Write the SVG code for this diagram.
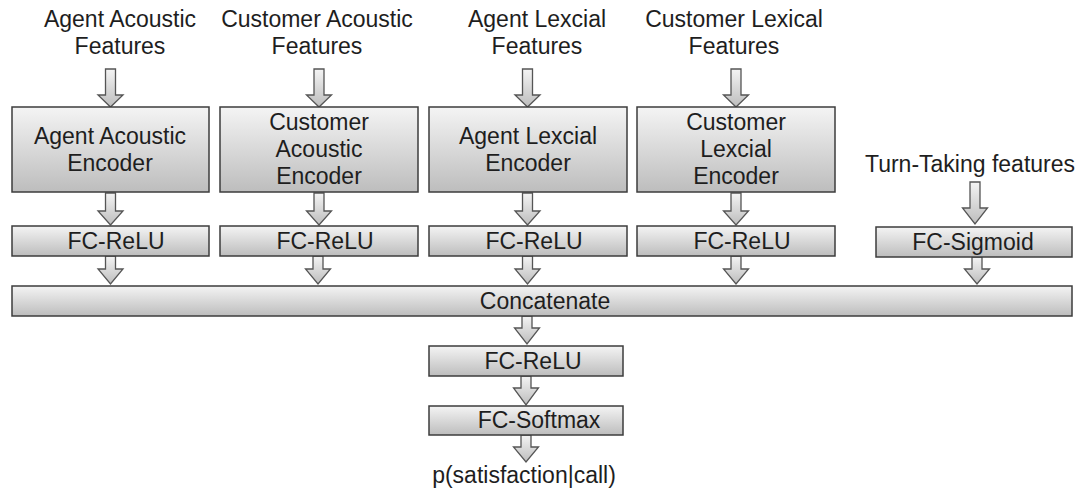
<svg xmlns="http://www.w3.org/2000/svg" width="1082" height="489" viewBox="0 0 1082 489">
  <defs>
    <linearGradient id="g" x1="0" y1="0" x2="0" y2="1">
      <stop offset="0" stop-color="#f4f4f4"/>
      <stop offset="1" stop-color="#bdbdbd"/>
    </linearGradient>
    <style>
      .box{fill:url(#g);stroke:#3c3c3c;stroke-width:1.5}
      .arr{fill:url(#g);stroke:#555;stroke-width:1.3;stroke-linejoin:miter}
      text{font-family:"Liberation Sans",Arial,sans-serif;font-size:23px;fill:#1e1e1e;text-anchor:middle}
    </style>
  </defs>
  <rect width="1082" height="489" fill="#fff"/>

  <g id="connectors">
    <polygon class="arr" points="105.5,69 115.5,69 115.5,95 123,95 110.5,107 98,95 105.5,95"/>
    <polygon class="arr" points="314,69 324,69 324,95 331.5,95 319,107 306.5,95 314,95"/>
    <polygon class="arr" points="522.5,69 532.5,69 532.5,95 540,95 527.5,107 515,95 522.5,95"/>
    <polygon class="arr" points="731,69 741,69 741,95 748.5,95 736,107 723.5,95 731,95"/>
    <polygon class="arr" points="105.5,193 115.5,193 115.5,211 123,211 110.5,225 98,211 105.5,211"/>
    <polygon class="arr" points="314,193 324,193 324,211 331.5,211 319,225 306.5,211 314,211"/>
    <polygon class="arr" points="522.5,193 532.5,193 532.5,211 540,211 527.5,225 515,211 522.5,211"/>
    <polygon class="arr" points="731,193 741,193 741,211 748.5,211 736,225 723.5,211 731,211"/>
    <polygon class="arr" points="105.5,256 115.5,256 115.5,269 123,269 110.5,284 98,269 105.5,269"/>
    <polygon class="arr" points="313,256 323,256 323,269 330.5,269 318,284 305.5,269 313,269"/>
    <polygon class="arr" points="522.5,256 532.5,256 532.5,269 540,269 527.5,284 515,269 522.5,269"/>
    <polygon class="arr" points="731,256 741,256 741,269 748.5,269 736,284 723.5,269 731,269"/>
    <polygon class="arr" points="970,182 980,182 980,208 987.5,208 975,224 962.5,208 970,208"/>
    <polygon class="arr" points="972,257 982,257 982,269 989.5,269 977,284 964.5,269 972,269"/>
    <polygon class="arr" points="522,316 532,316 532,328 539.5,328 527,344 514.5,328 522,328"/>
    <polygon class="arr" points="521,376 531,376 531,388 538.5,388 526,405 513.5,388 521,388"/>
    <polygon class="arr" points="521,435 531,435 531,447 538.5,447 526,462 513.5,447 521,447"/>
  </g>

  <g id="in-agent-acoustic"><text x="120" y="27">Agent Acoustic</text><text x="120" y="54">Features</text></g>
  <g id="in-customer-acoustic"><text x="317" y="27">Customer Acoustic</text><text x="317" y="54">Features</text></g>
  <g id="in-agent-lexical"><text x="537" y="27">Agent Lexcial</text><text x="537" y="54">Features</text></g>
  <g id="in-customer-lexical"><text x="734" y="27">Customer Lexical</text><text x="734" y="54">Features</text></g>
  <g id="in-turn-taking"><text x="970" y="172">Turn-Taking features</text></g>

  <g id="enc-agent-acoustic"><rect class="box" x="12" y="107" width="197" height="85"/><text x="110" y="144">Agent Acoustic</text><text x="110" y="171">Encoder</text></g>
  <g id="enc-customer-acoustic"><rect class="box" x="220" y="107" width="198" height="85"/><text x="319" y="130">Customer</text><text x="319" y="157">Acoustic</text><text x="319" y="184">Encoder</text></g>
  <g id="enc-agent-lexical"><rect class="box" x="429" y="107" width="198" height="85"/><text x="528" y="144">Agent Lexcial</text><text x="528" y="171">Encoder</text></g>
  <g id="enc-customer-lexical"><rect class="box" x="637" y="107" width="198" height="85"/><text x="736" y="130">Customer</text><text x="736" y="157">Lexcial</text><text x="736" y="184">Encoder</text></g>

  <g id="fc1"><rect class="box" x="12" y="226" width="197" height="30"/><text x="116" y="249">FC-ReLU</text></g>
  <g id="fc2"><rect class="box" x="220" y="226" width="198" height="30"/><text x="325" y="249">FC-ReLU</text></g>
  <g id="fc3"><rect class="box" x="429" y="226" width="198" height="30"/><text x="534" y="249">FC-ReLU</text></g>
  <g id="fc4"><rect class="box" x="637" y="226" width="198" height="30"/><text x="742" y="249">FC-ReLU</text></g>
  <g id="fc-sigmoid"><rect class="box" x="876" y="227" width="196" height="30"/><text x="973" y="250">FC-Sigmoid</text></g>

  <g id="concatenate"><rect class="box" x="12" y="286" width="1060" height="30"/><text x="545" y="309">Concatenate</text></g>
  <g id="fc-relu-out"><rect class="box" x="429" y="346" width="194" height="30"/><text x="533" y="369">FC-ReLU</text></g>
  <g id="fc-softmax"><rect class="box" x="429" y="406" width="194" height="29"/><text x="539" y="428">FC-Softmax</text></g>
  <g id="output"><text x="524" y="483">p(satisfaction|call)</text></g>
</svg>
